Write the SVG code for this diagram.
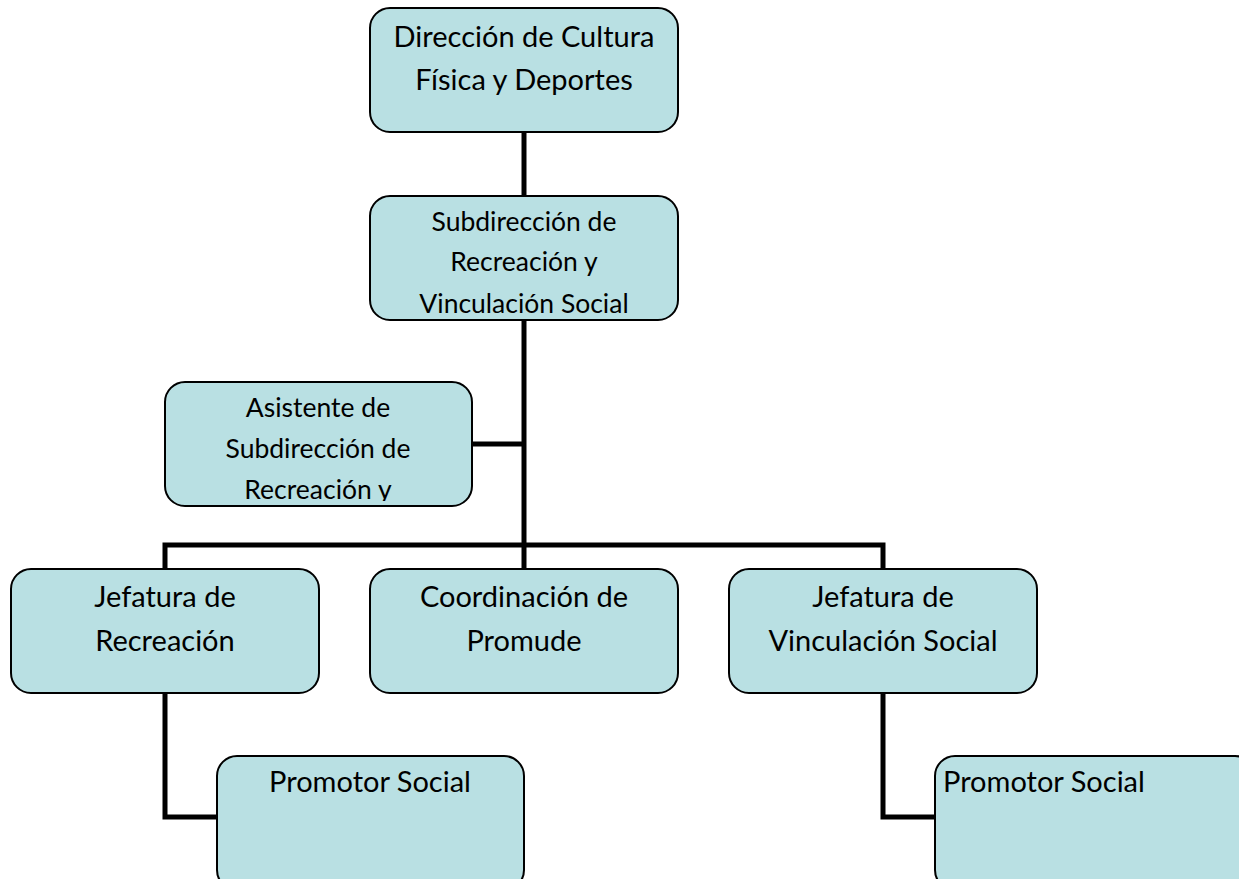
<svg xmlns="http://www.w3.org/2000/svg" width="1239" height="879" viewBox="0 0 1239 879">
<style>
.box{fill:#b9e0e3;stroke:#000;stroke-width:2}
.t{font-family:Lato,"Open Sans","Liberation Sans",sans-serif;fill:#000;text-anchor:middle}
.l{font-size:29px}
.s{font-size:26.5px}
.c{fill:none;stroke:#000;stroke-width:5}
</style>
<defs>
<clipPath id="clipA"><rect x="166" y="383" width="305" height="118"/></clipPath>
</defs>
<rect width="1239" height="879" fill="#fff"/>
<g id="connectors">
<path class="c" d="M524 132V196"/>
<path class="c" d="M524 320V569"/>
<path class="c" d="M472 444H524"/>
<path class="c" d="M165 569V545H883V569"/>
<path class="c" d="M165 693V817H217"/>
<path class="c" d="M883 693V817H935"/>
</g>
<g id="n1"><rect class="box" x="370" y="8" width="308" height="124" rx="20"/>
<text class="t l" x="524" y="47">Dirección de Cultura</text>
<text class="t l" x="524" y="90">Física y Deportes</text></g>
<g id="n2"><rect class="box" x="370" y="196" width="308" height="124" rx="20"/>
<text class="t s" x="524" y="231">Subdirección de</text>
<text class="t s" x="524" y="271">Recreación y</text>
<text class="t s" x="524" y="313">Vinculación Social</text></g>
<g id="n3"><rect class="box" x="165" y="382" width="307" height="124" rx="20"/>
<g clip-path="url(#clipA)">
<text class="t s" x="318" y="417">Asistente de</text>
<text class="t s" x="318" y="458">Subdirección de</text>
<text class="t s" x="318" y="499">Recreación y</text></g></g>
<g id="n4"><rect class="box" x="11" y="569" width="308" height="124" rx="20"/>
<text class="t l" x="165" y="607">Jefatura de</text>
<text class="t l" x="165" y="651">Recreación</text></g>
<g id="n5"><rect class="box" x="370" y="569" width="308" height="124" rx="20"/>
<text class="t l" x="524" y="607">Coordinación de</text>
<text class="t l" x="524" y="651">Promude</text></g>
<g id="n6"><rect class="box" x="729" y="569" width="308" height="124" rx="20"/>
<text class="t l" x="883" y="607">Jefatura de</text>
<text class="t l" x="883" y="651">Vinculación Social</text></g>
<g id="n7"><rect class="box" x="217" y="756" width="307" height="134" rx="20"/>
<text class="t l" x="370" y="792">Promotor Social</text></g>
<g id="n8"><rect class="box" x="935" y="756" width="320" height="134" rx="20"/>
<text class="t l" x="943" y="792" style="text-anchor:start">Promotor Social</text></g>
</svg>
